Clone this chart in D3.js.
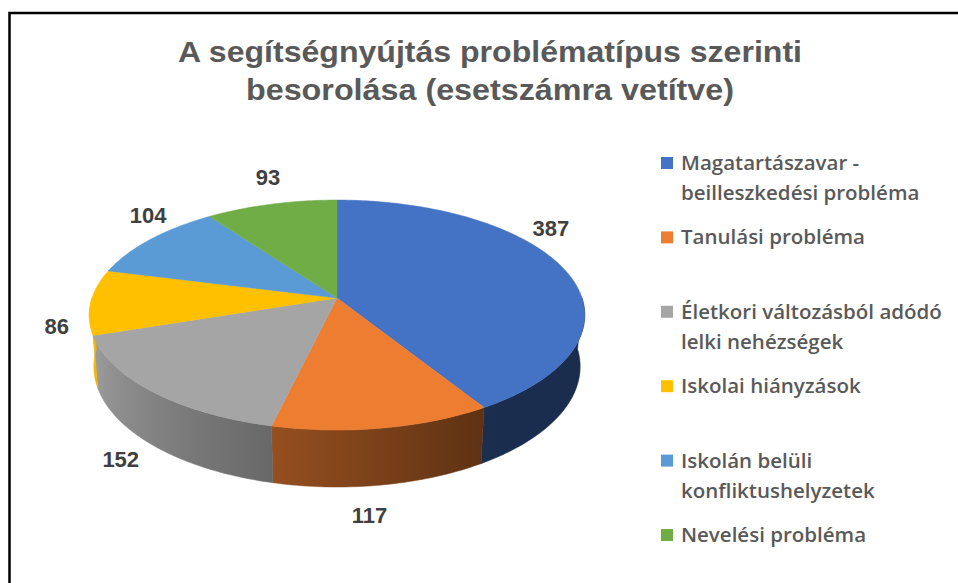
<!DOCTYPE html>
<html>
<head>
<meta charset="utf-8">
<script src="https://cdn.jsdelivr.net/npm/d3@7"></script>
<style>
  body { margin: 0; background: #fff; }
  svg { display: block; }
</style>
</head>
<body>
<div id="chart"></div>
<script>
var width = 958, height = 583;

// data
var categories = [
  ["Magatartászavar -", "beilleszkedési probléma"],
  ["Tanulási probléma"],
  ["Életkori változásból adódó", "lelki nehézségek"],
  ["Iskolai hiányzások"],
  ["Iskolán belüli", "konfliktushelyzetek"],
  ["Nevelési probléma"]
];
var values = [387, 117, 152, 86, 104, 93];
var colors = ["#4472C4", "#ED7D31", "#A5A5A5", "#FFC000", "#5B9BD5", "#70AD47"];
var titleLines = ["A segítségnyújtás problématípus szerinti", "besorolása (esetszámra vetítve)"];

// 3d view settings
var cx = 337, cy = 298;
var D = 6, F = 1470;            // camera distance and focal length (disk radius = 1)
var tilt = Math.asin(0.459);
var thick = 0.239;

function project(theta, r, h) {
  var u = r * Math.sin(theta), v = -r * Math.cos(theta);
  var depth = D - v * Math.cos(tilt) - h * Math.sin(tilt);
  return [cx + u * F / depth, cy + (v * Math.sin(tilt) - h * Math.cos(tilt)) * F / depth];
}

// side shading by angle (degrees clockwise from top)
var shade = d3.scaleLinear()
  .domain([90, 150, 193, 250, 270])
  .range([0.39, 0.40, 0.63, 0.95, 0.97])
  .clamp(true);

function darken(col, k) {
  var c = d3.rgb(col);
  return d3.rgb(c.r * k, c.g * k, c.b * k).formatHex();
}

var svg = d3.select("#chart").append("svg")
  .attr("width", width)
  .attr("height", height);
var defs = svg.append("defs");

// frame (only top and left edges are in view)
svg.append("path")
  .attr("d", "M9.5," + height + "V13H" + width)
  .attr("fill", "none")
  .attr("stroke", "#000")
  .attr("stroke-width", 2.5);

// title
svg.append("g").selectAll("text")
  .data(titleLines)
  .enter().append("text")
  .attr("x", 490)
  .attr("y", (d, i) => 62 + i * 38)
  .attr("text-anchor", "middle")
  .attr("font-family", "Liberation Sans, Arial, sans-serif")
  .attr("font-weight", "bold")
  .attr("font-size", 30)
  .attr("fill", "#595959")
  .attr("textLength", (d, i) => i === 0 ? 624 : 488)
  .attr("lengthAdjust", "spacingAndGlyphs")
  .text(d => d);

var pie = d3.pie().sort(null).value(d => d);
var arcs = pie(values);
var step = Math.PI / 180;

var gSide = svg.append("g");
var gTop = svg.append("g");

function rim(a0, a1, h) {
  var n = Math.max(2, Math.ceil(Math.abs(a1 - a0) / step));
  return d3.range(n + 1).map(k => project(a0 + (a1 - a0) * k / n, 1, h));
}
function poly(pts) {
  return "M" + pts.map(p => p[0].toFixed(2) + "," + p[1].toFixed(2)).join("L") + "Z";
}

arcs.forEach(function(a, i) {
  // visible outer wall: front half only
  var s = Math.max(a.startAngle, Math.PI / 2);
  var e = Math.min(a.endAngle, Math.PI * 1.5);
  if (e > s) {
    var xs = project(s, 1, 0)[0], xe = project(e, 1, 0)[0];
    var grad = defs.append("linearGradient")
      .attr("id", "side" + i)
      .attr("gradientUnits", "userSpaceOnUse")
      .attr("x1", xs).attr("x2", xe).attr("y1", 0).attr("y2", 0);
    d3.range(11).forEach(function(k) {
      var t = s + (e - s) * k / 10;
      var x = project(t, 1, 0)[0];
      grad.append("stop")
        .attr("offset", Math.max(0, Math.min(1, (x - xs) / (xe - xs))))
        .attr("stop-color", darken(colors[i], shade(t / step)));
    });
    gSide.append("path")
      .attr("d", poly(rim(s, e, 0).concat(rim(e, s, -thick))))
      .attr("fill", "url(#side" + i + ")")
      .attr("stroke", "url(#side" + i + ")")
      .attr("stroke-width", 0.5);
  }

  // top face
  gTop.append("path")
    .attr("d", poly([[cx, cy]].concat(rim(a.startAngle, a.endAngle, 0))))
    .attr("fill", colors[i])
    .attr("stroke", colors[i])
    .attr("stroke-width", 0.5);
});

// data labels: direction taken from the projected rim at mid-angle,
// placed on an outer label ellipse, then nudged off the pie if needed
var topBox = { x0: project(Math.PI * 1.5, 1, 0)[0], x1: project(Math.PI / 2, 1, 0)[0],
               y0: project(0, 1, 0)[1], y1: project(Math.PI, 1, 0)[1] };
var ecx = (topBox.x0 + topBox.x1) / 2, ecy = (topBox.y0 + topBox.y1) / 2;
var erx = (topBox.x1 - topBox.x0) / 2, ery = (topBox.y1 - topBox.y0) / 2;
var lab = { cx: 320, cy: 346, rx: 265, ry: 172 };

function onPie(x, y) {
  return Math.pow((x - ecx) / erx, 2) + Math.pow((y - ecy) / ery, 2) < 1;
}

svg.append("g").selectAll("text")
  .data(arcs)
  .enter().append("text")
  .attr("font-family", "Liberation Sans, Arial, sans-serif")
  .attr("font-weight", "bold")
  .attr("font-size", 22)
  .attr("fill", "#404040")
  .attr("text-anchor", "middle")
  .attr("dy", "0.35em")
  .text(d => d.value)
  .each(function(d) {
    var mid = (d.startAngle + d.endAngle) / 2;
    var p = project(mid, 1, thick * Math.max(0, Math.cos(mid)));
    var phi = Math.atan2((p[0] - ecx) / erx, -(p[1] - ecy) / ery);
    var x = lab.cx + lab.rx * Math.sin(phi);
    var y = lab.cy - lab.ry * Math.cos(phi);
    var hw = this.getComputedTextLength() / 2 + 2, hh = 16;
    var dir = y < ecy ? -1 : 1;
    var guard = 0;
    while (guard++ < 200 && [[-hw, -hh], [hw, -hh], [-hw, hh], [hw, hh], [0, hh], [0, -hh]]
             .some(c => onPie(x + c[0], y + c[1]))) {
      y += dir;
    }
    d3.select(this).attr("x", x).attr("y", y);
  });

// legend
var legendY = d3.scalePoint()
  .domain(d3.range(categories.length))
  .range([163, 535]);

var legend = svg.append("g").selectAll("g")
  .data(categories)
  .enter().append("g")
  .attr("transform", (d, i) => "translate(661," + legendY(i) + ")");

legend.append("rect")
  .attr("x", 0)
  .attr("y", -6)
  .attr("width", 12)
  .attr("height", 12)
  .attr("fill", (d, i) => colors[i]);

legend.append("text")
  .attr("x", 20)
  .attr("font-family", "Open Sans, sans-serif")
  .attr("font-weight", 600)
  .attr("font-size", 20.5)
  .attr("fill", "#595959")
  .selectAll("tspan")
  .data(d => d)
  .enter().append("tspan")
  .attr("x", 20)
  .attr("y", (d, j) => 7 + j * 30)
  .text(d => d);
</script>
</body>
</html>
